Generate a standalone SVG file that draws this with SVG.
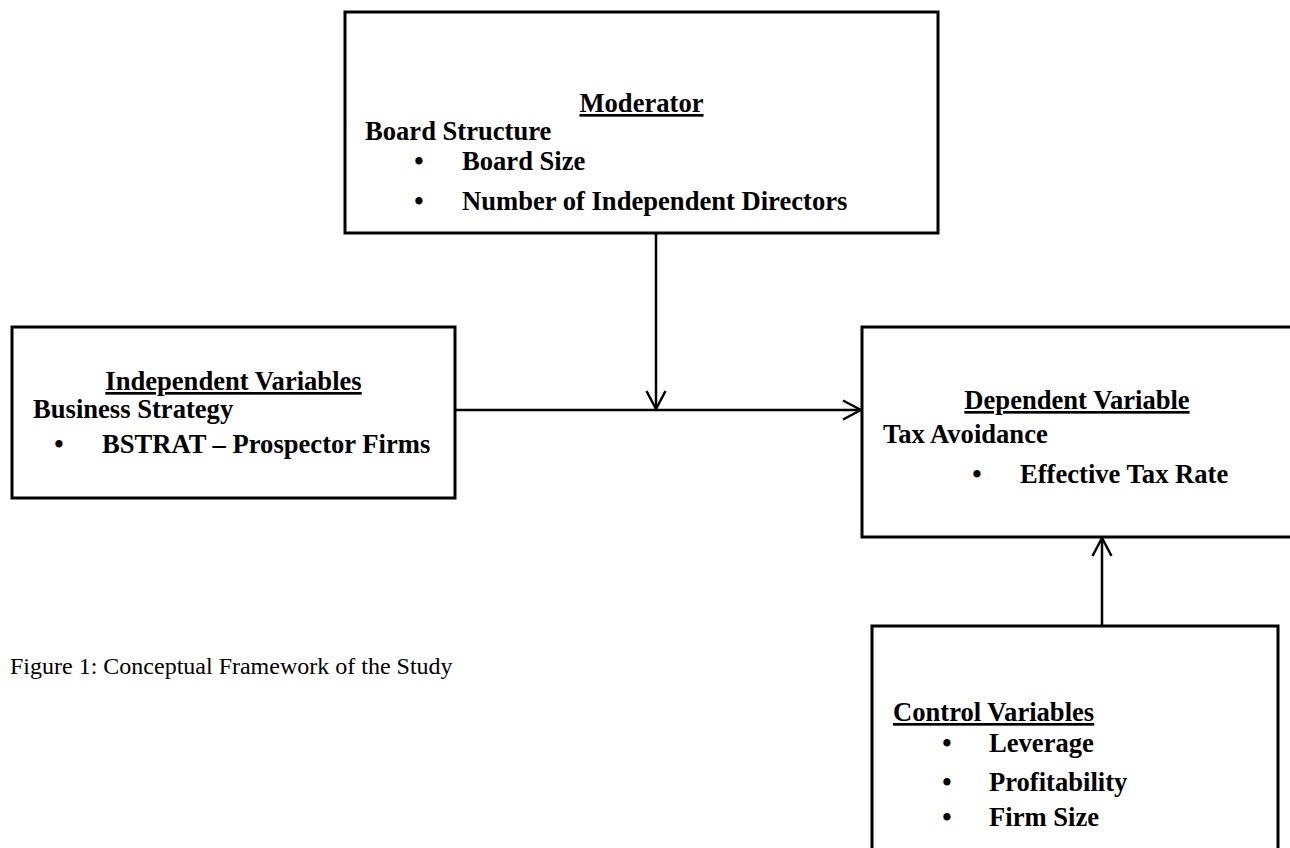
<svg xmlns="http://www.w3.org/2000/svg" width="1290" height="848" viewBox="0 0 1290 848">
<style>
.box{fill:#fff;stroke:#000;stroke-width:3}
.t{font-family:"Liberation Serif","Times New Roman",serif;font-weight:bold;font-size:26.6px;fill:#000}
.h{text-decoration:underline;text-decoration-thickness:2.5px}
.m{text-anchor:middle}
.cap{font-family:"Liberation Serif","Times New Roman",serif;font-size:24px;fill:#000}
.ln{stroke:#000;stroke-width:2.5;fill:none}
</style>
<defs>
<marker id="arr" markerUnits="userSpaceOnUse" viewBox="-20 -11 22 22" refX="0" refY="0" markerWidth="22" markerHeight="22" orient="auto">
<path d="M-18,-9.5 L0,0 L-18,9.5" fill="none" stroke="#000" stroke-width="2.5"/>
</marker>
</defs>
<rect width="1290" height="848" fill="#fff"/>
<g id="moderator">
<rect class="box" x="345" y="12" width="593" height="221"/>
<text class="t h m" x="641.5" y="112">Moderator</text>
<text class="t" x="365" y="140">Board Structure</text>
<text class="t m" x="419" y="170">•</text>
<text class="t" x="462" y="170">Board Size</text>
<text class="t m" x="419" y="210">•</text>
<text class="t" x="462" y="210">Number of Independent Directors</text>
</g>
<g id="independent">
<rect class="box" x="12" y="327" width="443" height="171"/>
<text class="t h m" x="233.5" y="390">Independent Variables</text>
<text class="t" x="33" y="418">Business Strategy</text>
<text class="t m" x="59" y="453">•</text>
<text class="t" x="102" y="453">BSTRAT – Prospector Firms</text>
</g>
<g id="dependent">
<rect class="box" x="862" y="327" width="440" height="210"/>
<text class="t h m" x="1077" y="409">Dependent Variable</text>
<text class="t" x="883" y="443">Tax Avoidance</text>
<text class="t m" x="977" y="483">•</text>
<text class="t" x="1020" y="483">Effective Tax Rate</text>
</g>
<g id="control">
<rect class="box" x="872" y="626" width="406" height="240"/>
<text class="t h" x="893" y="721">Control Variables</text>
<text class="t m" x="947" y="752">•</text>
<text class="t" x="989" y="752">Leverage</text>
<text class="t m" x="947" y="791">•</text>
<text class="t" x="989" y="791">Profitability</text>
<text class="t m" x="947" y="826">•</text>
<text class="t" x="989" y="826">Firm Size</text>
</g>
<g id="caption">
<text class="cap" x="10" y="674">Figure 1: Conceptual Framework of the Study</text>
</g>
<g id="connectors">
<line class="ln" x1="656" y1="233" x2="656" y2="409" marker-end="url(#arr)"/>
<line class="ln" x1="455" y1="410" x2="861" y2="410" marker-end="url(#arr)"/>
<line class="ln" x1="1102" y1="626" x2="1102" y2="538" marker-end="url(#arr)"/>
</g>
</svg>
